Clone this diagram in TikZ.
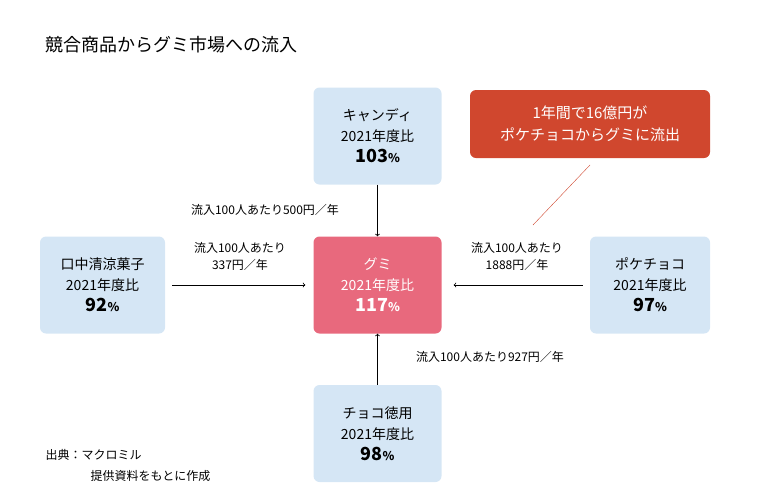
\documentclass[tikz,border=0pt]{standalone}
\usepackage{fontspec}
\setmainfont{Noto Sans CJK JP}
\usetikzlibrary{positioning}
\definecolor{boxblue}{HTML}{D5E6F5}
\definecolor{gumipink}{HTML}{E8697D}
\definecolor{callred}{HTML}{D0472E}
\tikzset{
  brand/.style={fill=boxblue, rounded corners=6pt, minimum width=128pt, minimum height=97pt,
    align=center, font=\fontsize{14}{21}\selectfont, inner sep=2pt},
  flow/.style={font=\fontsize{12}{17}\selectfont, align=center},
}
\newcommand{\pct}[1]{{\fontsize{18}{24}\selectfont\bfseries #1\fontsize{12}{14}\selectfont\%}}
\begin{document}
\begin{tikzpicture}[x=1pt,y=-1pt]
  \useasboundingbox (0,0) rectangle (780,496);

  \node[anchor=west, font=\fontsize{18}{22}\selectfont] (title) at (42,45) {競合商品からグミ市場への流入};

  \node[brand] (candy)  at (377.5,136) {キャンディ\\2021年度比\\\pct{103}};
  \node[brand, minimum width=125pt] (mouth) at (102.5,285) {口中清涼菓子\\2021年度比\\\pct{92}};
  \node[brand, fill=gumipink, text=white] (gumi) at (377.5,285) {グミ\\2021年度比\\\pct{117}};
  \node[brand, minimum width=120pt] (pocket) at (650,285) {ポケチョコ\\2021年度比\\\pct{97}};
  \node[brand] (choco)  at (377.5,433.5) {チョコ徳用\\2021年度比\\\pct{98}};

  \node[fill=callred, text=white, rounded corners=6pt, minimum width=240pt, minimum height=68pt,
    align=center, font=\fontsize{15}{22}\selectfont] (note) at (590,124)
    {1年間で16億円が\\ポケチョコからグミに流出};
  \coordinate (tip) at (533,225);
  \draw[callred] (590,165) -- (tip);

  \draw[->, thick] (candy) -- (gumi);
  \draw[->, thick] (mouth.east) ++(7,0) coordinate (m) (m) -- ([xshift=-8pt]gumi.west);
  \draw[->, thick] ([xshift=-7pt]pocket.west) -- ([xshift=12pt]gumi.east);
  \draw[->, thick] (choco) -- (gumi);

  \node[flow] (l1) at (265,210) {流入100人あたり500円／年};
  \node[flow] (l2) at (240,256) {流入100人あたり\\337円／年};
  \node[flow] (l3) at (517,256) {流入100人あたり\\1888円／年};
  \node[flow] (l4) at (490,357) {流入100人あたり927円／年};

  \node[anchor=west, font=\fontsize{12}{16}\selectfont] (src) at (42,455) {出典：マクロミル};
  \node[anchor=west, font=\fontsize{12}{16}\selectfont] (src2) at (87,476) {提供資料をもとに作成};
\end{tikzpicture}
\end{document}
